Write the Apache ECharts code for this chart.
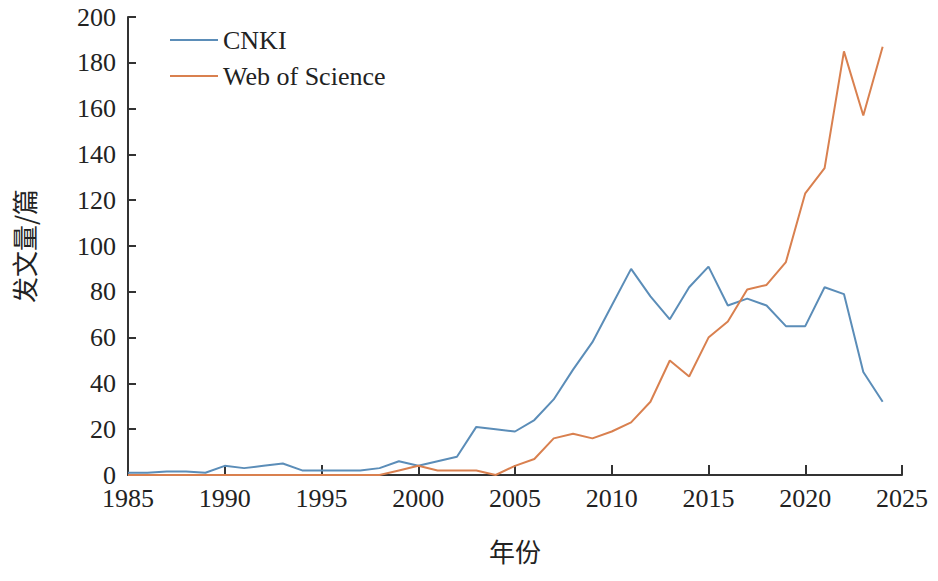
<!DOCTYPE html>
<html><head><meta charset="utf-8">
<script src="https://cdn.jsdelivr.net/npm/echarts@6/dist/echarts.min.js"></script>
<style>html,body{margin:0;padding:0;background:#fff}#c{width:938px;height:581px}</style>
</head><body><div id="c"></div>
<script>
const years = [];
for (let y = 1985; y <= 2024; y++) years.push(y);
const cnki = [1,1,1.5,1.5,1,4,3,4,5,2,2,2,2,3,6,4,6,8,21,20,19,24,33,46,58,74,90,78,68,82,91,74,77,74,65,65,82,79,45,32];
const wos = [0,0,0,0,0,0,0,0,0,0,0,0,0,0,2,4,2,2,2,0,4,7,16,18,16,19,23,32,50,43,60,67,81,83,93,123,134,185,157,187];

const font = 'Liberation Serif, serif';
const axisColor = '#333';
const chart = echarts.init(document.getElementById('c'), null, { renderer: 'svg' });
chart.setOption({
  animation: false,
  grid: { left: 128, right: 36, top: 17, bottom: 106 },
  legend: {
    orient: 'vertical', left: 165, top: 22, itemWidth: 48, itemHeight: 2, itemGap: 10,
    icon: 'rect',
    textStyle: { fontFamily: font, fontSize: 26, color: '#222' },
    data: ['CNKI', 'Web of Science']
  },
  xAxis: {
    type: 'value', min: 1985, max: 2025, interval: 5,
    name: '年份', nameLocation: 'middle', nameGap: 62,
    nameTextStyle: { fontFamily: 'Noto Sans CJK SC, serif', fontSize: 26, color: '#222' },
    axisLine: { lineStyle: { color: axisColor, width: 2 } },
    axisTick: { inside: true, length: 10, lineStyle: { color: axisColor, width: 2 } },
    axisLabel: { fontFamily: font, fontSize: 26, color: '#222', margin: 10, formatter: v => String(v) },
    splitLine: { show: false }
  },
  yAxis: {
    type: 'value', min: 0, max: 200, interval: 20,
    name: '发文量/篇', nameLocation: 'middle', nameGap: 92, nameRotate: 90,
    nameTextStyle: { fontFamily: 'Noto Sans CJK SC, serif', fontSize: 26, color: '#222' },
    axisLine: { show: true, lineStyle: { color: axisColor, width: 2 } },
    axisTick: { show: true, inside: true, length: 8, lineStyle: { color: axisColor, width: 2 } },
    axisLabel: { fontFamily: font, fontSize: 26, color: '#222', margin: 12 },
    splitLine: { show: false }
  },
  series: [
    { name: 'CNKI', type: 'line', data: years.map((y, i) => [y, cnki[i]]), symbol: 'none',
      lineStyle: { color: '#5b8db8', width: 2 }, itemStyle: { color: '#5b8db8' } },
    { name: 'Web of Science', type: 'line', data: years.map((y, i) => [y, wos[i]]), symbol: 'none',
      lineStyle: { color: '#d9804f', width: 2 }, itemStyle: { color: '#d9804f' } }
  ]
});
</script></body></html>
